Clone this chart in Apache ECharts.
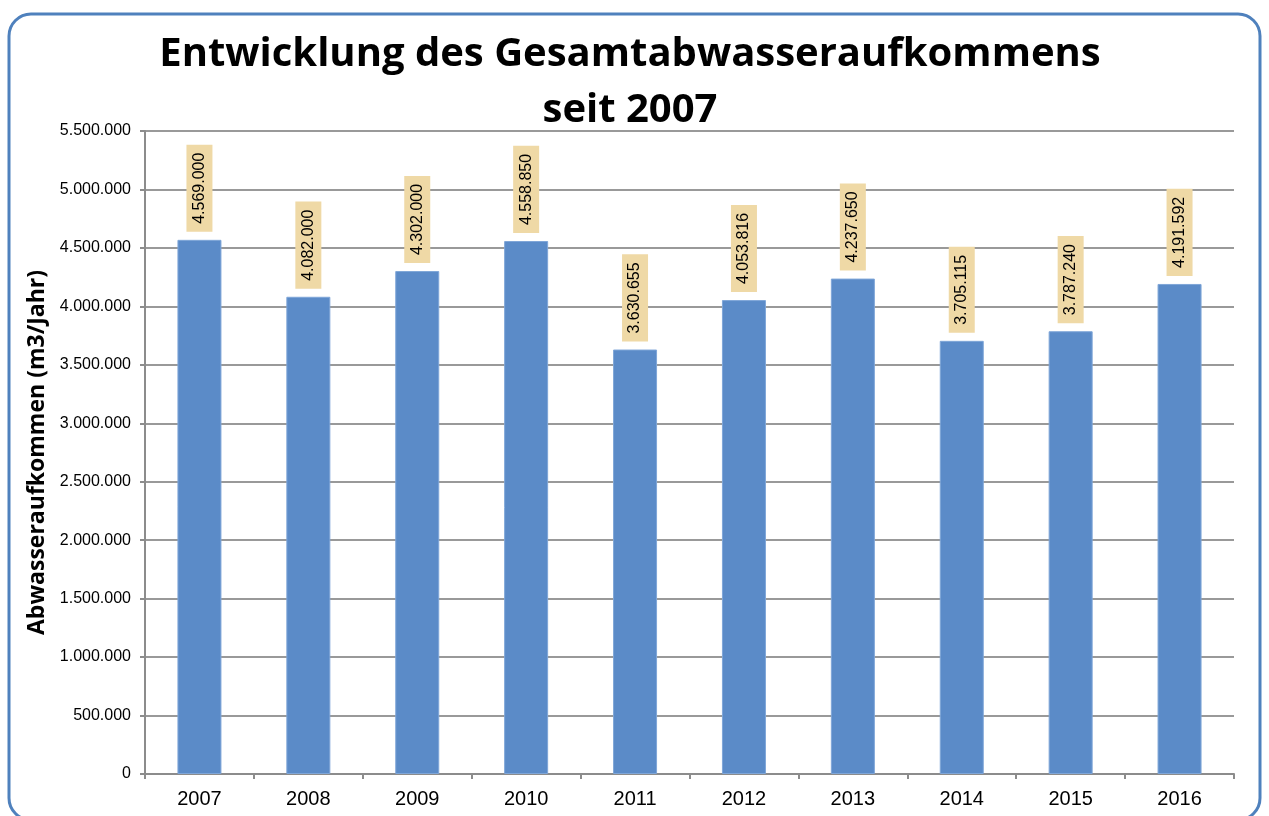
<!DOCTYPE html>
<html><head><meta charset="utf-8">
<script src="https://cdn.jsdelivr.net/npm/echarts@6/dist/echarts.min.js"></script>
<style>html,body{margin:0;padding:0;background:#fff}#c{width:1269px;height:816px}</style>
</head><body><div id="c"></div>
<script>
const years = ['2007','2008','2009','2010','2011','2012','2013','2014','2015','2016'];
const volumes = [4569000, 4082000, 4302000, 4558850, 3630655, 4053816, 4237650, 3705115, 3787240, 4191592];
const titleText = 'Entwicklung des Gesamtabwasseraufkommens\nseit 2007';
const yAxisTitle = 'Abwasseraufkommen (m3/Jahr)';

function fmt(v){ return String(v).replace(/\B(?=(\d{3})+(?!\d))/g, '.'); }

const chart = echarts.init(document.getElementById('c'));
chart.setOption({
  animation: false,
  backgroundColor: '#fff',
  graphic: [{
    type: 'rect', z: -10,
    shape: { x: 9, y: 14, width: 1251, height: 806, r: 22 },
    style: { fill: '#fff', stroke: '#4F81BD', lineWidth: 3 }
  }],
  title: {
    text: titleText, left: 625, top: 22, textAlign: 'center',
    textStyle: { fontFamily: 'Open Sans', fontWeight: 'bold', fontSize: 40, lineHeight: 56, color: '#000' }
  },
  grid: { left: 145, right: 35, top: 131, bottom: 42 },
  xAxis: {
    type: 'category', data: years,
    axisLine: { lineStyle: { color: '#8c8c8c', width: 2 } },
    axisTick: { show: true, length: 5, lineStyle: { color: '#8c8c8c', width: 2 } },
    axisLabel: { fontFamily: 'Liberation Sans', fontSize: 20, color: '#000', margin: 15 }
  },
  yAxis: {
    type: 'value', min: 0, max: 5500000, interval: 500000,
    name: yAxisTitle, nameLocation: 'middle', nameGap: 95, nameRotate: 90,
    nameTextStyle: { fontFamily: 'Open Sans', fontWeight: 'bold', fontSize: 23, color: '#000' },
    axisLine: { show: true, lineStyle: { color: '#8c8c8c', width: 2 } },
    axisTick: { show: true, length: 5, lineStyle: { color: '#8c8c8c', width: 2 } },
    splitLine: { lineStyle: { color: '#999', width: 2 } },
    axisLabel: { fontFamily: 'Liberation Sans', fontSize: 16, color: '#000', margin: 14, formatter: fmt }
  },
  series: [{
    type: 'bar', data: volumes, barWidth: 44,
    itemStyle: { color: '#5B8BC8', borderColor: '#7FA6D8', borderWidth: 1 },
    label: {
      show: true, position: 'top', rotate: 90, distance: 8,
      align: 'left', verticalAlign: 'middle',
      formatter: p => fmt(p.value),
      fontFamily: 'Liberation Sans', fontSize: 16, color: '#000',
      backgroundColor: '#EFD9A6', padding: [5, 8, 5, 8]
    }
  }]
});
</script></body></html>
